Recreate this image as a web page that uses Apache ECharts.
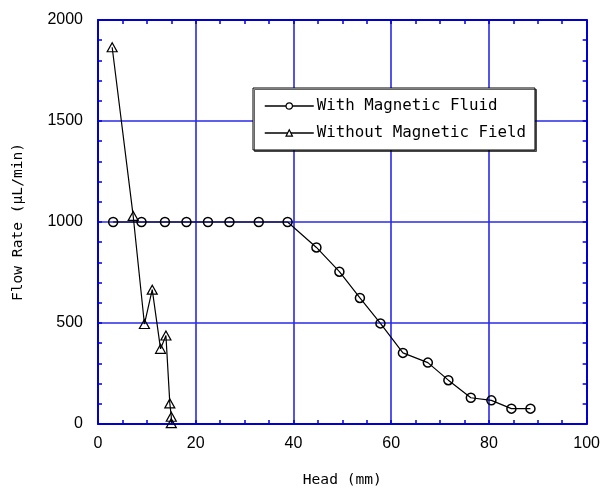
<!DOCTYPE html>
<html>
<head>
<meta charset="utf-8">
<script src="https://cdn.jsdelivr.net/npm/echarts@6/dist/echarts.min.js"></script>
<style>html,body{margin:0;padding:0;background:#fff}#c{width:603px;height:493px}</style>
</head>
<body>
<div id="c"></div>
<script>
// Data
const seriesNames = ['With Magnetic Fluid', 'Without Magnetic Field'];
const fluidHead = [3.1, 8.9, 13.7, 18.1, 22.5, 26.9, 32.9, 38.8, 44.7, 49.4, 53.6, 57.8, 62.4, 67.5, 71.7, 76.3, 80.5, 84.6, 88.5];
const fluidFlow = [1000, 1000, 1000, 1000, 1000, 1000, 1000, 1000, 874, 754, 624, 498, 352, 304, 217, 130, 117, 76, 76];
const noFieldHead = [2.9, 7.2, 9.5, 11.1, 12.8, 13.9, 14.7, 15.0, 15.0];
const noFieldFlow = [1865, 1030, 495, 665, 372, 438, 102, 36, 4];
const xTicks = [0, 20, 40, 60, 80, 100];
const yTicks = [0, 500, 1000, 1500, 2000];
const xTitle = 'Head (mm)';
const yTitle = 'Flow Rate (μL/min)';

const pairs = (xs, ys) => xs.map((x, i) => [x, ys[i]]);
const AX = '#0000d0', GR = '#2a2ae8';
const tickFont = "'Liberation Sans', Arial, sans-serif";
const monoFont = "'DejaVu Sans Mono', 'Liberation Mono', monospace";

function xAx(pos, show) {
  return {
    type: 'value', position: pos, min: xTicks[0], max: xTicks[xTicks.length - 1], interval: xTicks[1] - xTicks[0],
    name: show ? xTitle : '', nameLocation: 'middle', nameGap: 49,
    nameTextStyle: { fontFamily: monoFont, fontSize: 14.6, color: '#000' },
    axisLine: { show: true, onZero: false, lineStyle: { color: AX, width: 2 } },
    axisTick: { show: true, inside: true, length: 4, lineStyle: { color: AX, width: 1.5 } },
    minorTick: { show: true, splitNumber: 4, length: 4, lineStyle: { color: AX, width: 1.5 } },
    axisLabel: { show: show, margin: 12, color: '#000', fontFamily: tickFont, fontSize: 16, formatter: v => String(v) },
    splitLine: { show: show, lineStyle: { color: GR, width: 1.6 } }
  };
}
function yAx(pos, show) {
  return {
    type: 'value', position: pos, min: yTicks[0], max: yTicks[yTicks.length - 1], interval: yTicks[1] - yTicks[0],
    name: show ? yTitle : '', nameLocation: 'middle', nameGap: 72,
    nameTextStyle: { fontFamily: monoFont, fontSize: 14.6, color: '#000' },
    axisLine: { show: true, onZero: false, lineStyle: { color: AX, width: 2 } },
    axisTick: { show: true, inside: true, length: 4, lineStyle: { color: AX, width: 1.5 } },
    minorTick: { show: true, splitNumber: 5, length: 4, lineStyle: { color: AX, width: 1.5 } },
    axisLabel: { show: show, margin: 15, color: '#000', fontFamily: tickFont, fontSize: 16, formatter: v => String(v) },
    splitLine: { show: show, lineStyle: { color: GR, width: 1.6 } }
  };
}

const legendItem = { color: '#fff', borderColor: '#000', borderWidth: 1.2 };

const chart = echarts.init(document.getElementById('c'), null, { renderer: 'canvas' });
chart.setOption({
  animation: false,
  backgroundColor: '#fff',
  grid: { left: 98, right: 13, top: 20, bottom: 67 },
  xAxis: [xAx('bottom', true), xAx('top', false)],
  yAxis: [yAx('left', true), yAx('right', false)],
  legend: {
    orient: 'vertical', left: 253, top: 88,
    padding: [9, 9, 8, 11], itemGap: 9, itemWidth: 49, itemHeight: 8,
    backgroundColor: '#fff', borderColor: '#000', borderWidth: 1,
    shadowColor: 'rgba(0,0,0,0.6)', shadowOffsetX: 1.5, shadowOffsetY: 1.5, shadowBlur: 0,
    textStyle: { fontFamily: monoFont, fontSize: 15.8, color: '#000', lineHeight: 18, padding: [0, 0, 0, -2] },
    itemStyle: legendItem,
    lineStyle: { color: '#000', width: 1.5, opacity: 1 },
    data: seriesNames.map(n => ({ name: n, itemStyle: legendItem, lineStyle: { color: '#000', width: 1.5 } }))
  },
  series: [
    {
      name: seriesNames[0], type: 'line', data: pairs(fluidHead, fluidFlow),
      symbol: 'circle', symbolSize: 9, showAllSymbol: true,
      lineStyle: { color: '#000', width: 1.2 },
      itemStyle: { color: 'rgba(255,255,255,0)', borderColor: '#000', borderWidth: 1.5 },
      z: 3
    },
    {
      name: seriesNames[1], type: 'line', data: pairs(noFieldHead, noFieldFlow),
      symbol: 'triangle', symbolSize: [10, 9], showAllSymbol: true,
      lineStyle: { color: '#000', width: 1.2 },
      itemStyle: { color: 'rgba(255,255,255,0)', borderColor: '#000', borderWidth: 1.2 },
      z: 3
    }
  ]
});
</script>
</body>
</html>
